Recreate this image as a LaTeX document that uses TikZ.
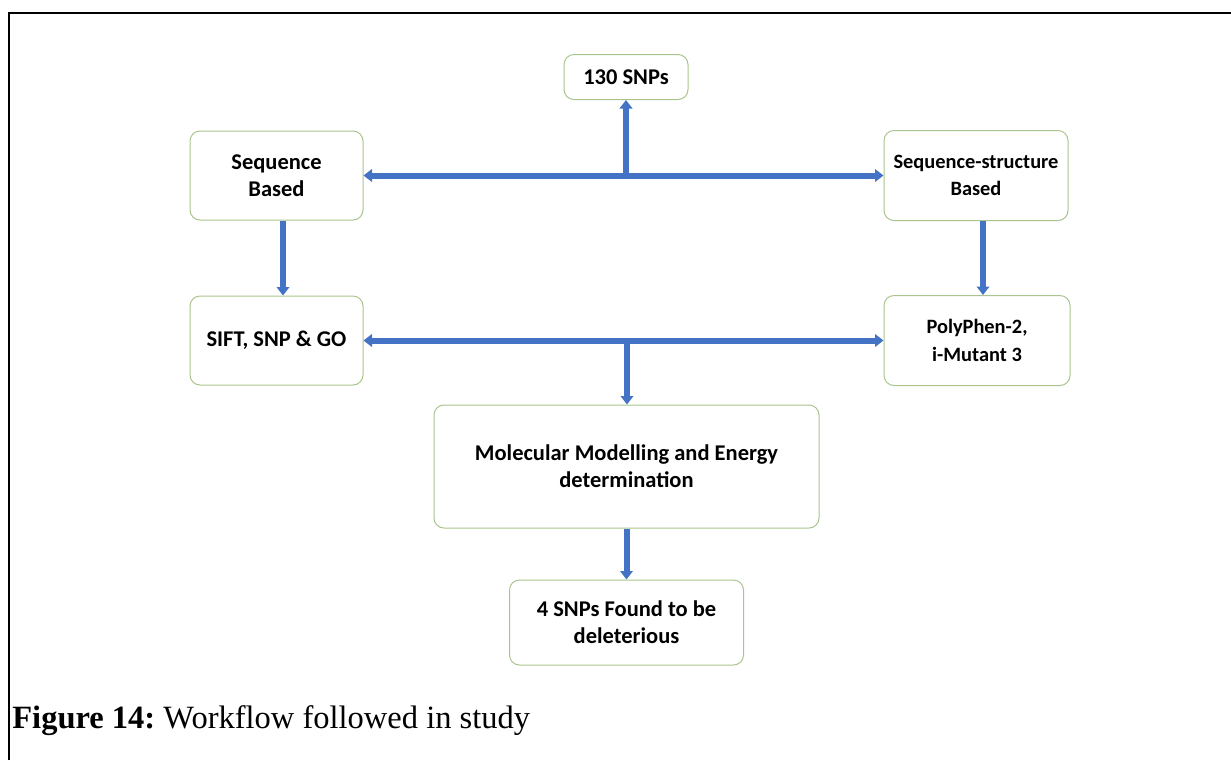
\documentclass[tikz,border=0pt]{standalone}
\usepackage{fontspec}
\setmainfont{Liberation Serif}
\newfontfamily\boxfont{Carlito}
\usetikzlibrary{arrows.meta}
\definecolor{flowblue}{RGB}{68,114,196}
\definecolor{boxline}{RGB}{169,196,140}
\tikzset{
  stepbox/.style={rectangle, rounded corners=0.2cm, draw=boxline, line width=0.02cm,
    align=center, font=\boxfont\bfseries\fontsize{12.8}{15.5}\selectfont, inner sep=2pt},
  smalltext/.style={font=\boxfont\bfseries\fontsize{11.6}{15.5}\selectfont},
  flow/.style={draw=flowblue, line width=0.12cm,
    arrows={-Triangle[width=0.25cm,length=0.17cm]}},
  both/.style={flow, arrows={Triangle[width=0.25cm,length=0.17cm]-Triangle[width=0.25cm,length=0.17cm]}}
}
\begin{document}
\begin{tikzpicture}
\useasboundingbox (0,0) rectangle (24.62,-15.2);
% frame
\draw [line width=0.04cm] (0.18,-15.2) -- (0.18,-0.26) -- (24.62,-0.26);
\node [stepbox, minimum width=2.48cm, minimum height=0.9cm] (snps) at (12.52,-1.54) {130 SNPs};
\node [stepbox, minimum width=3.46cm, minimum height=1.78cm] (seq) at (5.53,-3.51) {Sequence\\Based};
\node [stepbox, smalltext, minimum width=3.68cm, minimum height=1.8cm] (seqstr) at (19.52,-3.51) {Sequence-structure\\Based};
\node [stepbox, minimum width=3.46cm, minimum height=1.78cm] (sift) at (5.53,-6.81) {SIFT, SNP \& GO};
\node [stepbox, smalltext, minimum width=3.72cm, minimum height=1.8cm] (poly) at (19.54,-6.81) {PolyPhen-2,\\i-Mutant 3};
\node [stepbox, minimum width=7.7cm, minimum height=2.46cm] (mol) at (12.53,-9.33) {Molecular Modelling and Energy\\determination};
\node [stepbox, minimum width=4.68cm, minimum height=1.7cm] (found) at (12.53,-12.45) {4 SNPs Found to be\\deleterious};
\coordinate (j1) at (12.52,-3.51);
\coordinate (j2) at (12.54,-6.81);
\draw [both] (seq.east) -- (seqstr.west);
\draw [flow] (j1) -- (snps.south);
\draw [flow] ([xshift=0.13cm]seq.south) -- ([xshift=0.13cm]sift.north);
\draw [flow] ([xshift=0.14cm]seqstr.south) -- ([xshift=0.14cm]seqstr.south |- poly.north);
\draw [both] (sift.east) -- (poly.west);
\draw [flow] (j2) -- (j2 |- mol.north);
\draw [flow] (mol.south) -- (found.north);
% caption
\node [anchor=base west, inner sep=0pt, font=\fontsize{18.5}{20}\selectfont] (caption) at (0.24,-14.56) {\textbf{Figure 14:}\ Workflow followed in study};
\end{tikzpicture}
\end{document}
